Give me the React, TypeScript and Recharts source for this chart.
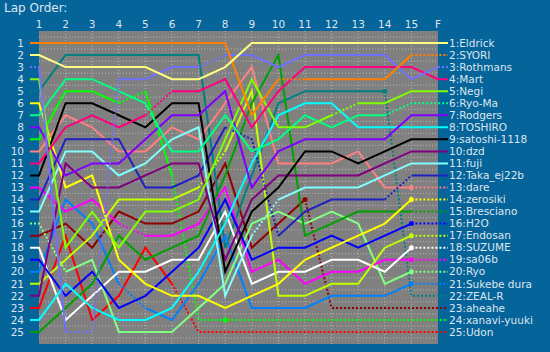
import React from 'react';
import { LineChart, Line, XAxis, YAxis, ReferenceArea, ReferenceLine, ReferenceDot } from 'recharts';

// lap columns (top tick labels)
const lapLabels = ['1', '2', '3', '4', '5', '6', '7', '8', '9', '10', '11', '12', '13', '14', '15', 'F'];

// drivers in final order
const names = ['Eldrick', 'SYORI', 'Rothmans', 'Mart', 'Negi', 'Ryo-Ma', 'Rodgers', 'TOSHIRO', 'satoshi-1118', 'dzd',
  'fuji', 'Taka_ej22b', 'dare', 'zerosiki', 'Bresciano', 'H2O', 'Endosan', 'SUZUME', 'sa06b', 'Ryo',
  'Sukebe dura', 'ZEAL-R', 'aheahe', 'xanavi-yuuki', 'Udon'];

const colors = ['#ffff80', '#ff8000', '#7070ff', '#ff0080', '#80ff00', '#00ff80', '#8000ff', '#00ffff', '#000000', '#800080',
  '#80ffff', '#2020c0', '#ff8080', '#ffff00', '#00a000', '#0000ff', '#c0ff00', '#ffffff', '#ff00ff', '#80ff80',
  '#0080ff', '#008080', '#900000', '#00ff00', '#ff0000'];

// positions at laps 1..15 and F
const eldrick = [2, 3, 3, 3, 3, 4, 4, 3, 1, 1, 1, 1, 1, 1, 1, 1];
const syori = [1, 1, 1, 1, 1, 1, 1, 1, 7, 4, 4, 4, 4, 4, 2, 2];
const rothmans = [3, 25, 25, 4, 4, 3, 3, 2, 2, 3, 2, 2, 2, 2, 4, 3];
const mart = [11, 8, 7, 8, 7, 5, 5, 4, 8, 5, 3, 3, 3, 3, 3, 4];
const negi = [4, 18, 15, 18, 15, 15, 14, 9, 4, 8, 8, 7, 6, 6, 5, 5];
const ryoma = [7, 4, 4, 5, 6, 10, 10, 7, 10, 9, 7, 8, 7, 7, 6, 6];
const rodgers = [8, 12, 11, 11, 9, 7, 7, 5, 13, 10, 9, 9, 9, 9, 7, 7];
const toshiro = [24, 21, 23, 24, 24, 23, 20, 16, 11, 7, 6, 6, 8, 8, 8, 8];
const satoshi = [12, 6, 6, 7, 8, 6, 6, 20, 15, 13, 10, 10, 11, 10, 9, 9];
const dzd = [22, 11, 13, 13, 12, 11, 11, 19, 14, 12, 12, 12, 12, 11, 10, 10];
const fuji = [15, 10, 10, 12, 11, 9, 8, 22, 17, 14, 13, 13, 13, 12, 11, 11];
const taka = [14, 9, 9, 9, 13, 13, 12, 8, 9, 17, 15, 14, 14, 14, 12, 12];
const dare = [10, 7, 8, 10, 10, 8, 9, 6, 3, 11, 11, 11, 10, 13, 13, 13];
const zerosiki = [6, 13, 12, 19, 21, 22, 22, 23, 22, 21, 19, 18, 17, 16, 14, 14];
const bresciano = [25, 23, 21, 17, 19, 18, 17, 12, 6, 2, 17, 16, 15, 15, 15, 15];
const h2o = [19, 22, 20, 23, 22, 20, 18, 14, 19, 18, 18, 17, 18, 17, 16, 16];
const endosan = [21, 19, 17, 14, 14, 14, 13, 10, 5, 22, 22, 21, 21, 18, 17, 17];
const suzume = [18, 24, 22, 20, 20, 19, 19, 15, 21, 20, 20, 19, 19, 20, 18, 18];
const sa06b = [13, 15, 14, 16, 17, 17, 16, 13, 20, 19, 21, 20, 20, 19, 19, 19];
const ryo = [16, 20, 19, 25, 25, 25, 23, 21, 16, 15, 16, 15, 16, 21, 20, 20];
const sukebe = [20, 14, 16, 21, 23, 24, 21, 17, 23, 23, 23, 22, 22, 22, 21, 21];
const zealr = [5, 2, 2, 2, 2, 2, 2, 18, 12, 6, 5, 5, 5, 5, 22, 22];
const aheahe = [17, 16, 18, 15, 16, 16, 15, 11, 18, 16, 14, 23, 23, 23, 23, 23];
const xanavi = [9, 5, 5, 6, 5, 12, 24, 24, 24, 24, 24, 24, 24, 24, 24, 24];
const udon = [23, 17, 24, 22, 18, 21, 25, 25, 25, 25, 25, 25, 25, 25, 25, 25];

const series = [eldrick, syori, rothmans, mart, negi, ryoma, rodgers, toshiro, satoshi, dzd,
  fuji, taka, dare, zerosiki, bresciano, h2o, endosan, suzume, sa06b, ryo,
  sukebe, zealr, aheahe, xanavi, udon];

// dotted segments: -1 = left stub, 0..14 = segment from lap i to lap i+1, 15 = right stub
const dottedSegs: number[][] = [
  [], [9, 14, 15], [-1, 1, 2, 6, 15], [4], [11], [13, 14, 15], [], [], [], [],
  [8], [7, 8, 13], [14, 15], [14, 15], [14, 15], [14, 15], [6, 14, 15], [14, 15], [3, 14, 15], [-1, 0, 14, 15],
  [3, 14, 15], [-1, 13, 14, 15], [10, 11, 12, 13, 14, 15], [3, 5, 6, 7, 8, 9, 10, 11, 12, 13, 14, 15], [5, 6, 7, 8, 9, 10, 11, 12, 13, 14, 15],
];

// small markers (driver index, lap index)
const markerDriver = [12, 13, 15, 16, 17, 18, 19, 20, 21, 22, 23];
const markerLap = [14, 14, 14, 14, 14, 14, 14, 14, 13, 10, 7];

const PX_PER_LAP = 399 / 15;
const X_START = 1 - 9 / PX_PER_LAP;
const X_END = 16 + 10 / PX_PER_LAP;
const xs = [X_START, ...lapLabels.map((_, i) => i + 1), X_END];

type Run = { key: string; dashed: boolean; color: string };
const runs: Run[] = [];
const rows: any[] = xs.map((x) => ({ x }));

series.forEach((pos, d) => {
  const pts = [pos[0], ...pos, pos[pos.length - 1]];
  const isDot = (k: number) => dottedSegs[d].includes(k - 1);
  let start = 0;
  let r = 0;
  const push = (from: number, to: number, dashed: boolean) => {
    const key = `d${d}r${r++}`;
    runs.push({ key, dashed, color: colors[d] });
    for (let p = 0; p < pts.length; p++) rows[p][key] = p >= from && p <= to ? pts[p] : null;
  };
  for (let k = 1; k <= 16; k++) {
    if (isDot(k) !== isDot(start)) {
      push(start, k, isDot(start));
      start = k;
    }
  }
  push(start, 17, isDot(start));
});

const rowTicks = names.map((_, i) => i + 1);
const lapTicks = lapLabels.map((_, i) => i + 1);
const gridRows = Array.from({ length: 26 }, (_, i) => i + 0.5);
const gridLaps = lapTicks.slice(1, 15);

const TEXT = '#dde6ee';
const FONT = 'DejaVu Sans';

export default function App() {
  const orderedRuns = [...runs].reverse();
  return (
    <div style={{ position: 'absolute', left: 0, top: 0, width: 550, height: 352, background: '#05649a', overflow: 'hidden' }}>
      <div style={{ position: 'absolute', left: 4, top: 1, color: TEXT, fontFamily: FONT, fontSize: 12 }}>Lap Order:</div>
      <LineChart width={550} height={352} data={rows} margin={{ top: 11, right: 0, bottom: 8, left: 0 }}>
        <XAxis xAxisId="x" type="number" dataKey="x" domain={[X_START, X_END]} orientation="top" height={20}
          ticks={lapTicks} interval={0} tickFormatter={(v: number) => lapLabels[v - 1]}
          axisLine={false} tickLine={false} tickSize={0} tickMargin={3}
          tick={{ fill: TEXT, fontSize: 10.5, fontFamily: FONT }} allowDataOverflow />
        <YAxis yAxisId="l" orientation="left" width={30} type="number" domain={[0, 26]} reversed ticks={rowTicks} interval={0}
          axisLine={false} tickLine={false} tickSize={0} tickMargin={6}
          tick={{ fill: TEXT, fontSize: 10.5, fontFamily: FONT }} allowDataOverflow />
        <YAxis yAxisId="r" orientation="right" width={102} type="number" domain={[0, 26]} reversed ticks={rowTicks} interval={0}
          tickFormatter={(v: number) => `${v}:${names[v - 1]}`}
          axisLine={false} tickLine={false} tickSize={0} tickMargin={1}
          tick={{ fill: TEXT, fontSize: 10.5, fontFamily: FONT, textAnchor: 'start' }} allowDataOverflow />
        <ReferenceArea xAxisId="x" yAxisId="l" x1={1} x2={16} y1={0} y2={26} fill="#808080" fillOpacity={1} stroke="none" />
        {gridLaps.map((k) => (
          <ReferenceLine key={`gx${k}`} xAxisId="x" yAxisId="l" x={k} stroke="#b4b4b4" strokeDasharray="1 2" strokeWidth={1} />
        ))}
        {gridRows.map((r) => (
          <ReferenceLine key={`gy${r}`} xAxisId="x" yAxisId="l" segment={[{ x: 1, y: r }, { x: 16, y: r }]} stroke="#b4b4b4" strokeDasharray="1 2" strokeWidth={1} />
        ))}
        {orderedRuns.map((run) => (
          <Line key={run.key} xAxisId="x" yAxisId="l" dataKey={run.key} type="linear" stroke={run.color} strokeWidth={2}
            strokeDasharray={run.dashed ? '2 2' : undefined} dot={false} activeDot={false} connectNulls={false}
            isAnimationActive={false} />
        ))}
        {markerDriver.map((d, i) => (
          <ReferenceDot key={`m${i}`} xAxisId="x" yAxisId="l" x={markerLap[i] + 1} y={series[d][markerLap[i]]} r={2.5}
            fill={colors[d]} stroke="none" />
        ))}
      </LineChart>
    </div>
  );
}
